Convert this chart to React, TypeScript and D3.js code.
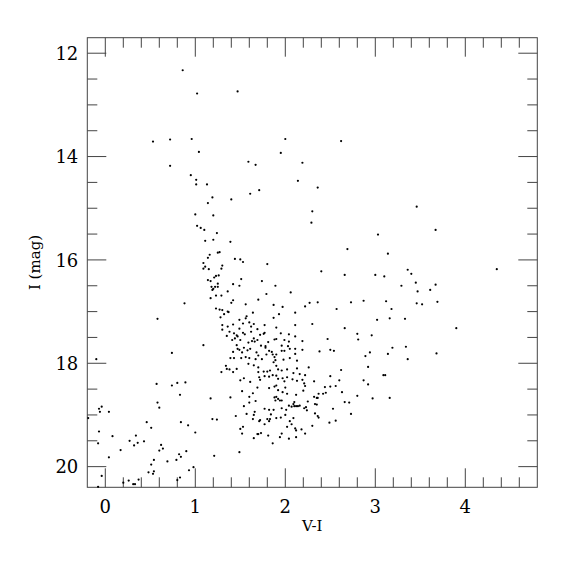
import React from 'react';
import * as d3 from 'd3';

// [V-I, I] pairs, grouped by region of the CMD
const brightStars: [number, number][] = [
  [0.86, 12.33], [1.02, 12.78], [1.47, 12.74], [0.53, 13.71], [0.72, 13.67], [0.96, 13.66],
  [1.04, 13.91], [1.59, 14.10], [1.67, 14.16], [2.0, 13.66], [2.62, 13.7], [1.95, 13.93],
  [2.19, 14.12], [2.14, 14.47], [2.36, 14.6], [2.3, 15.06], [2.29, 15.28], [3.46, 14.97],
  [3.67, 15.42], [3.03, 15.51], [2.69, 15.79], [3.14, 15.88], [1.8, 16.08], [2.4, 16.22],
  [3.36, 16.19], [3.4, 16.27], [4.35, 16.18], [0.72, 14.18], [0.95, 14.36], [1.01, 14.45],
  [1.01, 14.54], [1.13, 14.54], [1.71, 14.65], [1.61, 14.72], [1.19, 14.79], [1.4, 14.83],
  [1.14, 14.9], [1.0, 15.12], [1.2, 15.14], [1.02, 15.34], [1.06, 15.38], [1.1, 15.42],
  [1.24, 15.48], [1.11, 15.63], [1.2, 15.61], [1.39, 15.65], [1.25, 15.86], [1.27, 15.85],
  [1.16, 15.9], [1.14, 15.96], [1.44, 15.98], [1.5, 15.99], [1.53, 16.04], [1.09, 16.06],
  [1.11, 16.13], [1.3, 16.11], [1.09, 16.17], [1.15, 16.18], [1.29, 16.17],
];

const giantBranch: [number, number][] = [
  [1.26, 16.3], [1.23, 16.31], [1.21, 16.34], [1.14, 16.39], [1.17, 16.41], [1.25, 16.46],
  [1.42, 16.47], [1.49, 16.5], [1.51, 16.37], [1.74, 16.41], [1.89, 16.5], [1.18, 16.52],
  [1.22, 16.52], [1.25, 16.52], [1.2, 16.56], [1.19, 16.58], [1.36, 16.61], [1.23, 16.69],
  [1.29, 16.69], [1.17, 16.74], [1.42, 16.78], [1.4, 16.83], [0.88, 16.84], [1.23, 16.94],
  [1.27, 16.96], [1.3, 16.97], [1.36, 17.0], [1.37, 17.01], [1.32, 17.05], [1.28, 17.11],
  [0.58, 17.14], [1.57, 17.09], [1.49, 17.16], [1.3, 17.26], [1.42, 17.25], [1.49, 17.33],
  [1.53, 17.23], [1.65, 17.24], [1.62, 17.29], [1.3, 17.35], [1.36, 17.29], [1.38, 17.39],
  [1.43, 17.42], [1.46, 17.46], [1.47, 17.48], [1.53, 17.41], [1.55, 17.44], [1.69, 17.34],
  [1.62, 17.39], [1.76, 17.43], [1.77, 17.41], [1.72, 17.45], [1.95, 17.42], [2.04, 17.44],
  [2.11, 17.48], [1.35, 17.47], [1.44, 17.52], [1.41, 17.55], [1.5, 17.55], [1.59, 17.6],
  [1.65, 17.52], [1.66, 17.58], [1.63, 17.57], [1.69, 17.55], [1.81, 17.59], [1.88, 17.54],
  [1.9, 17.53], [1.99, 17.55], [2.04, 17.58], [2.19, 17.57],
];

const turnoffStars: [number, number][] = [
  [1.09, 17.65], [1.46, 17.65], [1.47, 17.72], [1.49, 17.74], [1.42, 17.78], [1.54, 17.7],
  [1.58, 17.75], [1.61, 17.72], [1.73, 17.66], [1.78, 17.67], [1.78, 17.7], [1.82, 17.76],
  [1.85, 17.78], [1.96, 17.66], [2.03, 17.67], [2.05, 17.72], [1.96, 17.76], [1.99, 17.76],
  [2.11, 17.72], [2.19, 17.74], [0.74, 17.8], [1.39, 17.9], [1.43, 17.9], [1.52, 17.79],
  [1.51, 17.9], [1.56, 17.88], [1.6, 17.9], [1.59, 18.01], [1.68, 17.79], [1.7, 17.85],
  [1.67, 17.92], [1.74, 17.92], [1.79, 17.83], [1.86, 17.83], [1.88, 17.88], [1.9, 17.83],
  [1.89, 17.94], [1.87, 17.98], [1.9, 18.05], [1.98, 17.93], [2.05, 17.9], [2.11, 17.82],
  [2.13, 17.95], [1.35, 18.11], [1.38, 18.12], [1.34, 18.05], [1.46, 18.11], [1.29, 18.17],
  [1.42, 18.17], [1.65, 18.04], [1.7, 18.08], [1.7, 18.17], [1.76, 18.16], [1.8, 18.16],
  [1.83, 18.14], [1.92, 18.12], [1.96, 18.14], [2.02, 18.12], [2.09, 18.19], [2.13, 18.1],
  [2.16, 18.21], [2.22, 18.23], [0.57, 18.4], [0.74, 18.43], [0.8, 18.38], [0.89, 18.37],
  [1.5, 18.33], [1.54, 18.29], [1.61, 18.36], [1.71, 18.27], [1.72, 18.32], [1.77, 18.25],
  [1.82, 18.26], [1.86, 18.23], [1.9, 18.24], [1.92, 18.3], [1.97, 18.29], [1.99, 18.35],
  [2.02, 18.27], [2.08, 18.31], [2.13, 18.34], [2.19, 18.32], [2.21, 18.39], [0.83, 18.61],
  [1.17, 18.68], [1.39, 18.66], [1.52, 18.54], [1.6, 18.65], [1.64, 18.58], [1.69, 18.47],
  [1.82, 18.48], [1.88, 18.45], [1.9, 18.43], [1.92, 18.52], [2.0, 18.47], [1.97, 18.56],
  [2.02, 18.59], [2.12, 18.61], [2.22, 18.44], [2.2, 18.53], [2.35, 18.67], [2.45, 18.57],
];

const redStars: [number, number][] = [
  [2.06, 16.63], [1.79, 16.66], [3.29, 16.5], [3.45, 16.44], [3.67, 16.48], [3.47, 16.61],
  [3.61, 16.58], [2.66, 16.29], [3.0, 16.29], [3.1, 16.32], [1.7, 16.77], [1.56, 16.86],
  [1.87, 16.87], [1.97, 16.91], [2.27, 16.83], [2.22, 16.9], [2.36, 16.82], [2.73, 16.82],
  [2.87, 16.79], [3.12, 16.8], [3.46, 16.84], [3.52, 16.86], [3.69, 16.81], [2.57, 16.95],
  [3.18, 16.95], [2.11, 17.02], [1.64, 17.02], [1.93, 17.05], [1.56, 17.13], [1.87, 17.12],
  [3.02, 17.16], [3.16, 17.13], [3.33, 17.14], [1.6, 17.21], [1.77, 17.26], [1.9, 17.31],
  [2.11, 17.26], [2.3, 17.24], [2.66, 17.32], [2.8, 17.43], [2.81, 17.54], [2.96, 17.46],
  [2.47, 17.53], [2.38, 17.77], [2.5, 17.74], [2.54, 17.76], [2.89, 17.86], [2.94, 17.79],
  [3.19, 17.7], [3.14, 17.82], [3.34, 17.68], [3.36, 17.92], [3.68, 17.81], [3.9, 17.32],
  [2.26, 18.08], [2.92, 18.07], [2.62, 18.13], [3.09, 18.23], [3.11, 18.23], [2.5, 18.25],
  [2.32, 18.35], [2.6, 18.33], [2.87, 18.33], [2.92, 18.41], [2.44, 18.46], [2.5, 18.45],
  [2.56, 18.44], [2.63, 18.56], [2.37, 18.59], [2.42, 18.59],
];

const blueStars: [number, number][] = [
  [-0.1, 17.92], [-0.07, 18.88], [-0.04, 18.84], [-0.06, 18.94], [0.04, 18.94], [-0.19, 19.06],
  [-0.07, 19.32], [-0.08, 19.55], [0.08, 19.41], [0.04, 19.82], [-0.04, 20.18], [-0.08, 20.39],
  [0.17, 19.68], [0.27, 19.5], [0.32, 19.59], [0.34, 19.4], [0.36, 19.54], [0.43, 19.51],
  [0.46, 19.14], [0.51, 19.25], [0.2, 20.31], [0.26, 20.27], [0.31, 20.34], [0.33, 20.34],
  [0.37, 20.25], [0.48, 20.11], [0.53, 20.14], [0.54, 20.09], [0.51, 19.96], [0.54, 19.87],
  [0.6, 19.69], [0.62, 19.58], [0.64, 19.65], [0.69, 19.9], [0.79, 19.87], [0.82, 19.76],
  [0.84, 19.81], [0.9, 19.7], [0.8, 20.26], [0.83, 20.21], [0.93, 20.07], [0.98, 20.01],
  [0.84, 19.14], [0.92, 19.2], [1.0, 19.34], [0.58, 18.76], [0.6, 18.86], [1.19, 19.08],
  [1.24, 19.09], [1.21, 19.79],
];

const faintStars: [number, number][] = [
  [1.45, 19.02], [1.49, 19.72], [1.5, 19.27], [1.53, 19.23], [1.52, 19.36], [1.54, 18.83],
  [1.57, 18.98], [1.6, 18.76], [1.64, 19.08], [1.65, 19.45], [1.69, 19.37], [1.71, 19.12],
  [1.66, 18.94], [1.65, 19.0], [1.88, 18.66], [1.9, 18.65], [1.92, 18.69], [1.94, 18.72],
  [1.89, 18.72], [1.96, 18.72], [1.67, 18.73], [1.77, 18.88], [1.72, 19.1], [1.82, 18.9],
  [1.87, 18.9], [1.84, 18.99], [1.8, 19.08], [1.83, 19.08], [1.82, 19.12], [1.9, 19.06],
  [1.95, 19.05], [1.96, 18.87], [2.01, 18.9], [2.04, 18.82], [2.07, 18.84], [2.1, 18.83],
  [2.12, 18.83], [2.14, 18.83], [2.16, 18.82], [2.09, 18.79], [2.1, 18.75], [2.0, 19.0],
  [2.05, 19.12], [2.09, 19.06], [2.07, 19.18], [2.02, 19.23], [2.11, 19.26], [2.12, 19.3],
  [2.18, 19.28], [2.22, 19.36], [2.12, 19.43], [2.04, 19.46], [1.94, 19.43], [1.96, 19.36],
  [1.86, 19.55], [1.81, 19.4], [1.73, 19.35], [1.7, 19.37], [1.77, 19.18], [2.21, 18.87],
  [2.24, 18.91], [2.23, 18.85], [2.25, 18.74], [2.32, 18.65], [2.36, 18.67], [2.33, 18.79],
  [2.35, 18.8], [2.33, 18.97], [2.36, 19.02], [2.37, 19.05], [2.3, 19.21], [2.53, 18.88],
  [2.56, 19.11], [2.49, 19.15], [2.66, 18.75], [2.71, 18.76], [2.73, 18.98], [2.8, 18.63],
  [2.97, 18.68], [3.16, 18.67],
];

const xMajorTicks = [0, 1, 2, 3, 4];
const yMajorTicks = [12, 14, 16, 18, 20];

const App = () => {
  const left = 87.3, right = 537.3, top = 37.7, bottom = 487.3;
  const x = d3.scaleLinear().domain([-0.2, 4.8]).range([left, right]);
  const y = d3.scaleLinear().domain([11.7, 20.4]).range([top, bottom]);

  const stars = [...brightStars, ...giantBranch, ...turnoffStars, ...redStars, ...blueStars, ...faintStars];

  // minor ticks every 0.2 in colour, 0.5 in magnitude
  const xMinor = d3.range(0, 24).map((i) => -0.2 + (i + 1) * 0.2)
    .filter((v) => Math.abs(v - Math.round(v)) > 0.01);
  const yMinor = d3.range(12.5, 20, 0.5).filter((v) => v % 2 !== 0);

  const axisColor = '#444';
  const major = 19, minor = 10;
  const font = '"DejaVu Serif", serif';

  return (
    <svg width={575} height={575} style={{ position: 'absolute', left: 0, top: 0 }}>
      <rect x={left} y={top} width={right - left} height={bottom - top} fill="none" stroke={axisColor} strokeWidth={1} />
      <g stroke={axisColor} strokeWidth={1}>
        {xMajorTicks.map((t) => (
          <g key={'xM' + t}>
            <line x1={x(t)} x2={x(t)} y1={bottom} y2={bottom - major} />
            <line x1={x(t)} x2={x(t)} y1={top} y2={top + major} />
          </g>
        ))}
        {xMinor.map((t) => (
          <g key={'xm' + t}>
            <line x1={x(t)} x2={x(t)} y1={bottom} y2={bottom - minor} />
            <line x1={x(t)} x2={x(t)} y1={top} y2={top + minor} />
          </g>
        ))}
        {yMajorTicks.map((t) => (
          <g key={'yM' + t}>
            <line x1={left} x2={left + major} y1={y(t)} y2={y(t)} />
            <line x1={right} x2={right - major} y1={y(t)} y2={y(t)} />
          </g>
        ))}
        {yMinor.map((t) => (
          <g key={'ym' + t}>
            <line x1={left} x2={left + minor} y1={y(t)} y2={y(t)} />
            <line x1={right} x2={right - minor} y1={y(t)} y2={y(t)} />
          </g>
        ))}
      </g>
      <g fontFamily={font} fontSize={18} fill="#000">
        {xMajorTicks.map((t) => (
          <text key={'xl' + t} x={x(t)} y={bottom + 26} textAnchor="middle">{t}</text>
        ))}
        {yMajorTicks.map((t) => (
          <text key={'yl' + t} x={left - 9} y={y(t) + 6.6} textAnchor="end">{t}</text>
        ))}
      </g>
      <text x={(left + right) / 2} y={531} textAnchor="middle" fontFamily={font} fontSize={15}>V-I</text>
      <text transform={`translate(39.5, ${(top + bottom) / 2}) rotate(-90)`} textAnchor="middle" fontFamily={font} fontSize={15}>I (mag)</text>
      <g fill="#000">
        {stars.map((d, i) => (
          <circle key={i} cx={x(d[0])} cy={y(d[1])} r={1.1} />
        ))}
      </g>
    </svg>
  );
};

export default App;
